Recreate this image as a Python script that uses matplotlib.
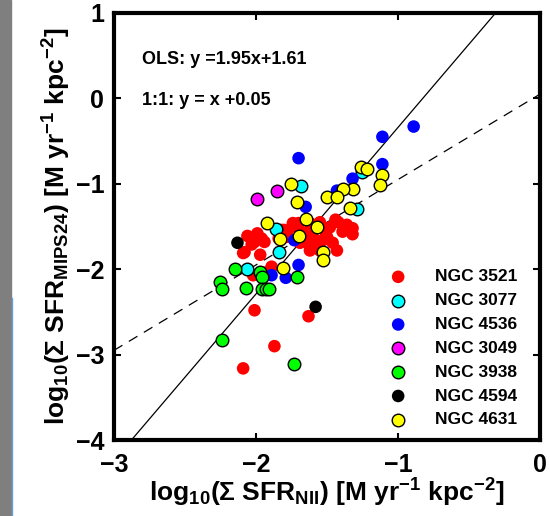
import numpy as np
import matplotlib
matplotlib.use('Agg')
import matplotlib.pyplot as plt
from matplotlib.patches import Rectangle
from matplotlib.lines import Line2D

plt.rcParams['font.family'] = ['Liberation Sans', 'DejaVu Sans']
plt.rcParams['font.weight'] = 'bold'
plt.rcParams['mathtext.fontset'] = 'custom'
plt.rcParams['mathtext.rm'] = 'Liberation Sans:bold'
plt.rcParams['mathtext.bf'] = 'Liberation Sans:bold'
plt.rcParams['mathtext.it'] = 'Liberation Sans:bold'
plt.rcParams['mathtext.default'] = 'bf'

# values
x_3521 = [-2.09, -2.06, -1.99, -2.01, -1.94, -2.03, -1.97, -1.89, -1.94, -2.02,
          -2.08, -1.80, -1.78, -1.82, -1.70, -1.71, -1.78, -1.62, -1.55, -1.48,
          -1.42, -1.39, -1.32, -1.32, -1.50, -1.60, -1.46, -1.64, -1.43, -1.62,
          -1.55, -1.69, -1.59, -1.51, -1.44, -1.61, -1.84, -1.96, -1.74,
          -1.67, -1.53, -1.36, -2.04, -1.58,
          -2.01, -1.63, -1.87, -2.09]
y_3521 = [-1.81, -1.61, -1.58, -1.68, -1.68, -1.71, -1.83, -1.97, -2.04, -2.07,
          -1.80, -1.54, -1.62, -1.54, -1.46, -1.51, -1.56, -1.46, -1.45, -1.51,
          -1.45, -1.56, -1.52, -1.59, -1.62, -1.62, -1.69, -1.69, -1.78, -1.78,
          -1.78, -1.69, -1.52, -1.56, -1.42, -1.72, -1.64, -1.64, -1.46,
          -1.57, -1.66, -1.48, -1.63, -1.73,
          -2.48, -2.55, -2.90, -3.16]

x_3077 = [-2.06, -1.84, -1.86, -1.68, -1.29, -1.25]
y_3077 = [-2.00, -1.80, -1.53, -1.03, -1.30, -0.86]

x_4536 = [-1.70, -1.65, -1.11, -0.89, -1.11, -1.32, -1.43, -1.70, -1.79, -1.89, -1.73]
y_4536 = [-0.70, -1.27, -0.45, -0.33, -0.77, -0.94, -1.08, -1.95, -2.10, -2.07, -1.66]

x_3049 = [-1.85, -1.99]
y_3049 = [-1.08, -1.18]

x_3938 = [-2.24, -1.73, -2.15, -2.25, -2.24, -2.07, -1.97, -1.96, -1.96, -1.93, -1.91, -1.71]
y_3938 = [-2.83, -3.11, -2.00, -2.15, -2.23, -2.22, -2.03, -2.09, -2.23, -2.23, -2.23, -2.09]

x_4594 = [-1.58, -2.13]
y_4594 = [-2.44, -1.69]

x_4631 = [-1.75, -1.71, -1.65, -1.92, -1.50, -1.57, -1.26, -1.22, -1.11, -1.13,
          -1.32, -1.39, -1.43, -1.34, -1.83, -1.70, -1.53, -1.53, -1.81]
y_4631 = [-1.00, -1.21, -1.41, -1.46, -1.15, -1.51, -0.80, -0.83, -0.90, -1.01,
          -1.06, -1.06, -1.15, -1.28, -1.65, -1.61, -1.80, -1.89, -1.99]

labels = ['NGC 3521', 'NGC 3077', 'NGC 4536', 'NGC 3049', 'NGC 3938', 'NGC 4594', 'NGC 4631']
colors = ['#ff0000', '#00ffff', '#0000ff', '#ff00ff', '#00ff00', '#000000', '#ffff00']
edged = [False, True, False, True, True, False, True]
xs_all = [x_3521, x_3077, x_4536, x_3049, x_3938, x_4594, x_4631]
ys_all = [y_3521, y_3077, y_4536, y_3049, y_3938, y_4594, y_4631]

ols_slope, ols_icpt = 1.95, 1.61
one_icpt = 0.05

fig = plt.figure(figsize=(5.5, 5.16), dpi=100)
ax = fig.add_axes([0.207, 0.147, 0.775, 0.828])

xl = np.array([-3.0, 0.0])
ax.plot(xl, ols_slope * xl + ols_icpt, color='k', lw=0.9)
ax.plot(xl, xl + one_icpt, color='k', lw=0.9, dashes=(8, 6))

for xx, yy, c, lab, e in zip(xs_all, ys_all, colors, labels, edged):
    ax.scatter(xx, yy, s=82, c=c, edgecolors='k' if e else 'none',
               linewidths=1.0 if e else 0, label=lab, zorder=3)

ax.text(0.065, 0.89, 'OLS: y =1.95x+1.61', transform=ax.transAxes, fontsize=13,
        fontweight='bold', va='center')
ax.text(0.065, 0.795, '1:1: y = x +0.05', transform=ax.transAxes, fontsize=13,
        fontweight='bold', va='center')

leg = ax.legend(loc='center left', bbox_to_anchor=(0.61, 0.215), frameon=False,
                fontsize=12.5, labelspacing=0.5, handletextpad=1.1,
                borderaxespad=0, scatterpoints=1)

ax.set_xlim(-3, 0)
ax.set_ylim(-4, 1)
ax.set_xticks([-3, -2, -1, 0])
ax.set_yticks([-4, -3, -2, -1, 0, 1])
ax.tick_params(direction='in', length=5, width=1.5, top=True, right=True,
               labelsize=18, pad=9)
ax.tick_params(axis='y', pad=7)
for sp in ax.spines.values():
    sp.set_linewidth(3)

ax.set_xlabel(r'log$_{10}$($\Sigma$ SFR$_{NII}$) [M yr$^{-1}$ kpc$^{-2}$]',
              fontsize=19, fontweight='bold', labelpad=0)
ax.set_ylabel(r'log$_{10}$($\Sigma$ SFR$_{MIPS24}$) [M yr$^{-1}$ kpc$^{-2}$]',
              fontsize=19, fontweight='bold', labelpad=2)

# grey strip on the left edge of the screenshot
fig.add_artist(Rectangle((0, 0), 11 / 550, 1, transform=fig.transFigure,
                         color='#7f7f7f', zorder=0))
fig.add_artist(Line2D([11.5 / 550, 11.5 / 550], [0, 1 - 298 / 516],
                      transform=fig.transFigure, color='#6a9fd4', lw=1))

fig.savefig('out.png', dpi=100)
